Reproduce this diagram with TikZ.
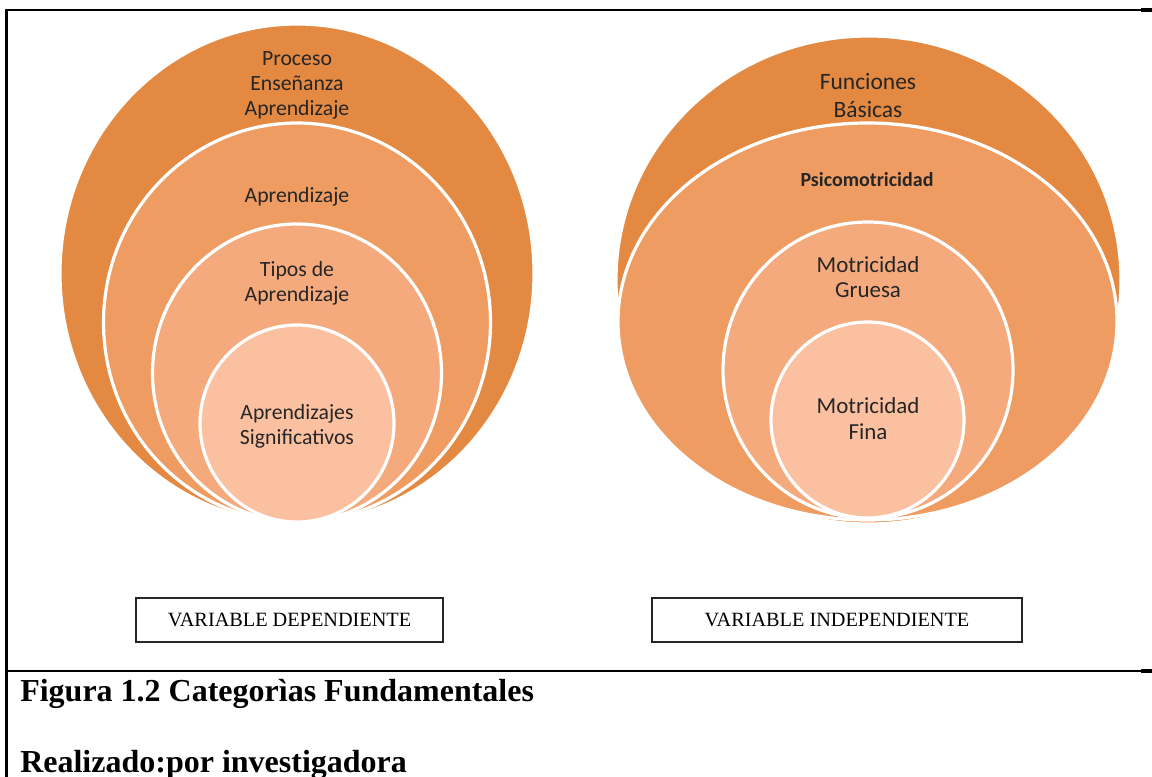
\documentclass[tikz,border=0pt]{standalone}
\usepackage{fontspec}
\setmainfont{Liberation Serif}
\newfontfamily\calibri{Carlito}
\usetikzlibrary{shapes.geometric,positioning}
\definecolor{ringA}{RGB}{228,137,66}
\definecolor{ringB}{RGB}{238,156,98}
\definecolor{ringC}{RGB}{244,170,124}
\definecolor{ringD}{RGB}{250,192,160}
\definecolor{ringtext}{RGB}{38,38,38}
\tikzset{
  ring/.style={ellipse,draw=white,line width=2.4pt,inner sep=0pt,outer sep=0pt},
  ringlbl/.style={font=\calibri\fontsize{16.3}{18.75}\selectfont,text=ringtext,align=center,anchor=base,inner sep=0pt},
  varbox/.style={draw=black!85,line width=1.1pt,minimum height=33pt,inner sep=0pt,font=\fontsize{15.2}{18}\selectfont},
  caption/.style={font=\bfseries\fontsize{24}{28}\selectfont,anchor=base west,inner sep=0pt},
  tablerule/.style={line width=1.1pt},
  tablestub/.style={line width=2.4pt}
}

\begin{document}
\begin{tikzpicture}[x=0.75pt,y=-0.75pt]
  \useasboundingbox (0,0) rectangle (1152,777);

  % ---- table frame ----
  \coordinate (tl) at (5,10);
  \coordinate (tr) at (1141,10);
  \coordinate (ml) at (5,671);
  \coordinate (mr) at (1141,671);
  \draw[tablerule] (tl) -- (tr);
  \draw[tablestub] (tr) -- (1152,10);
  \draw[tablerule] (ml) -- (mr);
  \draw[tablestub] (mr) -- (1152,671);
  \draw[line width=1.9pt] (6.5,10) -- (6.5,777);

  % ---- dependent variable: nested rings (center y, x radius, y radius in px) ----
  \foreach \n/\col/\cy/\rx/\ry in {A/ringA/273.5/237/249.5,
                                  B/ringB/322.5/193.5/199.5,
                                  C/ringC/373/144.5/149,
                                  D/ringD/423.5/97/98.5}{
    \node[ring,fill=\col,minimum width=\rx*1.5pt,minimum height=\ry*1.5pt] (dep\n) at (297,\cy) {};
  }
  % labels sit on the baseline of their last line
  \node[ringlbl] (depA-lbl) at (297,115.7) {Proceso\\Enseñanza\\Aprendizaje};
  \node[ringlbl] (depB-lbl) at (297,202.7) {Aprendizaje};
  \node[ringlbl] (depC-lbl) at (297,301) {Tipos de\\Aprendizaje};
  \node[ringlbl] (depD-lbl) at (297,444) {Aprendizajes\\Significativos};

  % ---- independent variable: nested rings ----
  \foreach \n/\col/\cx/\cy/\rx/\ry in {A/ringA/868.5/280/252.5/244,
                                      B/ringB/867.5/321.5/249.5/198.5,
                                      C/ringC/868/370/145/148,
                                      D/ringD/867.5/420/96.5/98}{
    \node[ring,fill=\col,minimum width=\rx*1.5pt,minimum height=\ry*1.5pt] (ind\n) at (\cx,\cy) {};
  }
  \node[ringlbl,font=\calibri\fontsize{17.6}{21}\selectfont] (indA-lbl) at (868,117.7) {Funciones\\Básicas};
  \node[ringlbl,font=\calibri\bfseries\fontsize{15}{18}\selectfont] (indB-lbl) at (867,186.7) {Psicomotricidad};
  \node[ringlbl,font=\calibri\fontsize{17.2}{19}\selectfont] (indC-lbl) at (868,297.7) {Motricidad\\Gruesa};
  \node[ringlbl,font=\calibri\fontsize{17.2}{19}\selectfont] (indD-lbl) at (868,439) {Motricidad\\Fina};

  % ---- variable boxes ----
  \node[varbox,minimum width=230pt] (depbox) at (289.5,620) {VARIABLE DEPENDIENTE};
  \node[varbox,minimum width=277.5pt] (indbox) at (837,620) {VARIABLE INDEPENDIENTE};

  % ---- caption ----
  \node[caption] (figcap) at (20,701) {Figura 1.2 Categorìas Fundamentales};
  \node[caption] (author) at (20,772) {Realizado:por investigadora};
\end{tikzpicture}
\end{document}
